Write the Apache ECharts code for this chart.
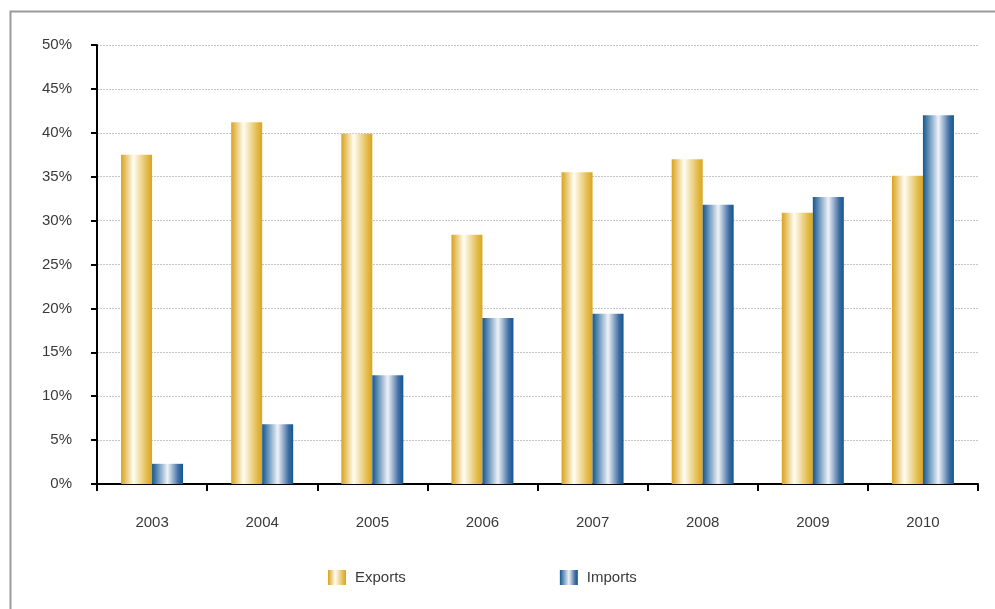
<!DOCTYPE html>
<html>
<head>
<meta charset="utf-8">
<script src="https://cdn.jsdelivr.net/npm/echarts@6/dist/echarts.min.js"></script>
<style>
  html, body { margin: 0; padding: 0; background: #fff; }
  #chart { width: 995px; height: 609px; }
</style>
</head>
<body>
<div id="chart"></div>
<script>
const years = ['2003', '2004', '2005', '2006', '2007', '2008', '2009', '2010']
const exportsData = [37.5, 41.2, 39.9, 28.4, 35.5, 37.0, 30.9, 35.1]
const importsData = [2.3, 6.8, 12.4, 18.9, 19.4, 31.8, 32.7, 42.0]

const myChart = echarts.init(document.getElementById('chart'))

// vertical "cylinder" shading, left to right
const gold = new echarts.graphic.LinearGradient(0, 0, 1, 0, [
    { offset: 0, color: '#d9a21a' },
    { offset: 0.4, color: '#fffdf4' },
    { offset: 0.85, color: '#e2b947' },
    { offset: 1, color: '#d9a520' }
])
const blue = new echarts.graphic.LinearGradient(0, 0, 1, 0, [
    { offset: 0, color: '#135790' },
    { offset: 0.5, color: '#eef2f8' },
    { offset: 0.85, color: '#3f6da2' },
    { offset: 1, color: '#11588f' }
])

const labelFont = {
    color: '#3a3a3a',
    fontSize: 15,
    fontFamily: 'Liberation Sans, Arial, sans-serif'
}

myChart.setOption({
    animation: false,
    backgroundColor: '#fff',
    graphic: [{
        type: 'rect',
        shape: { x: 10.5, y: 11.5, width: 1000, height: 620 },
        style: { fill: 'none', stroke: '#9a9a9a', lineWidth: 2 },
        z: -1
    }],
    grid: { left: 97, right: 17, top: 45, bottom: 125 },
    legend: {
        left: 328,
        top: 570,
        padding: 0,
        icon: 'rect',
        itemWidth: 18,
        itemHeight: 15,
        itemGap: 154,
        textStyle: Object.assign({ padding: [0, 0, 0, 4] }, labelFont),
        data: ['Exports', 'Imports']
    },
    xAxis: {
        type: 'category',
        data: years,
        axisLine: { lineStyle: { color: '#000', width: 2 } },
        axisTick: { show: true, alignWithLabel: false, length: 7, lineStyle: { color: '#000', width: 2 } },
        axisLabel: Object.assign({ margin: 31 }, labelFont)
    },
    yAxis: {
        type: 'value',
        min: 0,
        max: 50,
        interval: 5,
        axisLine: { show: true, lineStyle: { color: '#000', width: 2 } },
        axisTick: { show: true, inside: false, length: 6, lineStyle: { color: '#000', width: 2 } },
        axisLabel: Object.assign({ margin: 25, formatter: '{value}%' }, labelFont),
        splitLine: { lineStyle: { color: '#c4c4c4', type: [2, 1], width: 1 } }
    },
    series: [
        {
            name: 'Exports',
            type: 'bar',
            data: exportsData,
            barWidth: 31,
            barGap: '0%',
            itemStyle: { color: gold }
        },
        {
            name: 'Imports',
            type: 'bar',
            data: importsData,
            barWidth: 31,
            barGap: '0%',
            itemStyle: { color: blue }
        }
    ]
})
</script>
</body>
</html>
